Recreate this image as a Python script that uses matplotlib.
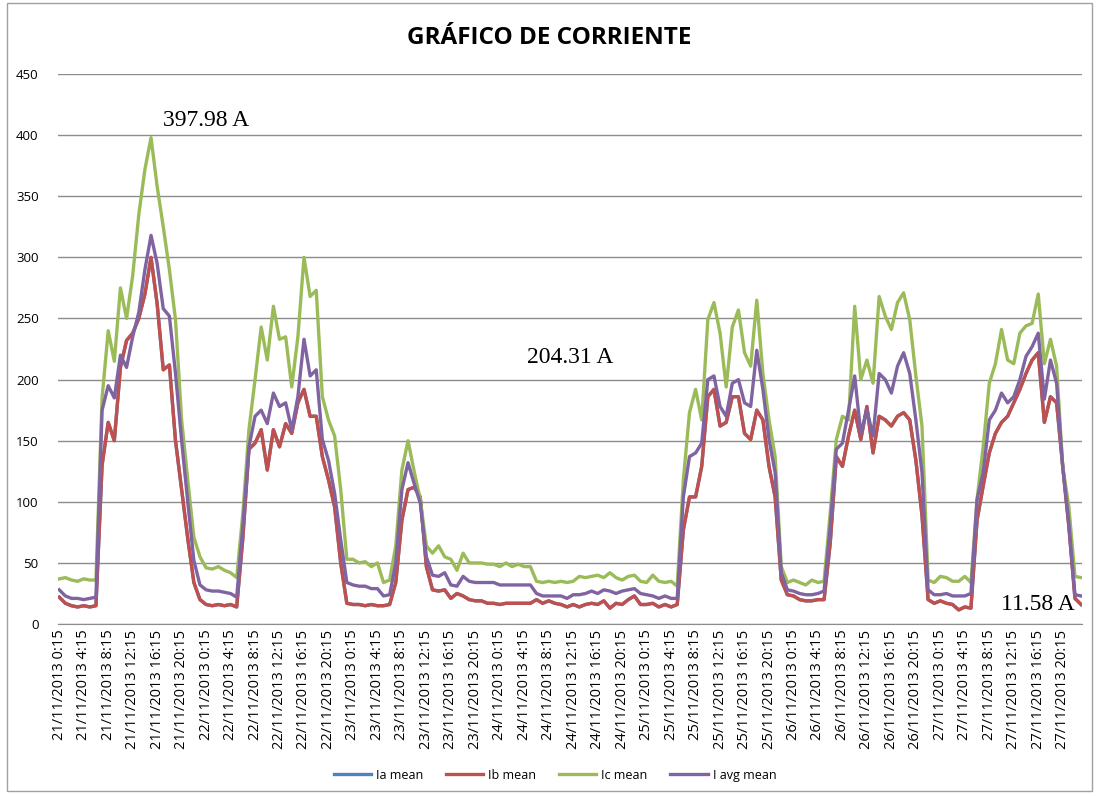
import matplotlib
matplotlib.use("Agg")
import matplotlib.pyplot as plt
from matplotlib.patches import Rectangle

# hourly readings 21/11/2013 0:15 .. 27/11/2013 23:15
ib_mean = [22, 17, 15, 14, 15, 14, 15, 130, 165, 150, 210, 232, 238, 250, 270, 300, 262, 208, 212, 150, 110, 70, 34, 20,
           16, 15, 16, 15, 16, 14, 70, 143, 148, 159, 126, 159, 145, 164, 156, 181, 192, 170, 170, 137, 118, 96, 50, 17,
           16, 16, 15, 16, 15, 15, 16, 34, 85, 110, 112, 104, 47, 28, 27, 28, 21, 25, 23, 20, 19, 19, 17, 17,
           16, 17, 17, 17, 17, 17, 20, 17, 19, 17, 16, 14, 16, 14, 16, 17, 16, 19, 13, 17, 16, 20, 23, 16,
           16, 17, 14, 16, 14, 16, 77, 104, 104, 129, 186, 192, 162, 165, 186, 186, 156, 151, 175, 167, 129, 104, 36, 24,
           23, 20, 19, 19, 20, 20, 66, 137, 129, 154, 175, 151, 178, 140, 170, 167, 162, 170, 173, 167, 134, 89, 20, 17,
           19, 17, 16, 11.58, 14, 13, 85, 113, 140, 156, 165, 170, 181, 192, 205, 216, 222, 165, 186, 181, 129, 80, 21, 16]
ia_mean = list(ib_mean)  # la serie azul queda tapada por Ib
ic_mean = [37, 38, 36, 35, 37, 36, 36, 185, 240, 215, 275, 250, 285, 335, 372, 397.98, 358, 325, 290, 249, 167, 118, 71, 55,
           46, 45, 47, 44, 42, 38, 90, 159, 200, 243, 216, 260, 233, 235, 194, 235, 300, 268, 273, 186, 167, 154, 110, 53,
           53, 50, 51, 47, 50, 34, 36, 64, 126, 150, 125, 102, 64, 58, 64, 55, 53, 44, 58, 50, 50, 50, 49, 49,
           47, 50, 47, 49, 47, 47, 35, 34, 35, 34, 35, 34, 35, 39, 38, 39, 40, 38, 42, 38, 36, 39, 40, 35,
           34, 40, 35, 34, 35, 31, 118, 173, 192, 167, 249, 263, 238, 194, 243, 257, 222, 211, 265, 205, 167, 137, 47, 34,
           36, 34, 32, 36, 34, 35, 91, 151, 170, 167, 260, 200, 216, 197, 268, 252, 241, 263, 271, 249, 203, 162, 36, 34,
           39, 38, 35, 35, 39, 34, 102, 145, 197, 213, 241, 216, 213, 238, 244, 246, 270, 213, 233, 211, 129, 96, 39, 38]
iavg_mean = [28, 23, 21, 21, 20, 21, 22, 175, 195, 185, 220, 210, 235, 255, 290, 318, 295, 258, 252, 205, 150, 100, 52, 32,
             28, 27, 27, 26, 25, 22, 80, 145, 170, 175, 164, 189, 178, 181, 159, 186, 233, 203, 208, 151, 134, 107, 69, 34,
             32, 31, 31, 29, 29, 23, 24, 50, 110, 132, 115, 99, 55, 40, 39, 42, 32, 31, 39, 35, 34, 34, 34, 34,
             32, 32, 32, 32, 32, 32, 25, 23, 23, 23, 23, 21, 24, 24, 25, 27, 25, 28, 27, 25, 27, 28, 29, 25,
             24, 23, 21, 23, 21, 21, 104, 137, 140, 148, 200, 203, 178, 170, 197, 200, 181, 178, 224, 192, 151, 124, 42, 28,
             27, 25, 24, 24, 25, 27, 80, 143, 148, 175, 203, 156, 175, 154, 205, 200, 189, 211, 222, 205, 167, 124, 28, 24,
             24, 25, 23, 23, 23, 25, 102, 124, 167, 175, 189, 181, 186, 200, 219, 227, 238, 184, 216, 197, 129, 83, 24, 23]

days = ["21/11/2013", "22/11/2013", "23/11/2013", "24/11/2013", "25/11/2013", "26/11/2013", "27/11/2013"]
hours = ["0:15", "4:15", "8:15", "12:15", "16:15", "20:15"]
tick_labels = [d + " " + h for d in days for h in hours]

annotations = [("397.98 A", 24, 412), ("204.31 A", 83.5, 218), ("11.58 A", 160, 16)]

fig = plt.figure(figsize=(10.99, 7.96), dpi=100)
ax = fig.add_axes([0.0528, 0.216, 0.932, 0.691])

x = list(range(len(ib_mean)))
ax.plot(x, ia_mean, color="#4F81BD", lw=2.4, label="Ia mean")
ax.plot(x, ib_mean, color="#C0504D", lw=2.4, label="Ib mean")
ax.plot(x, ic_mean, color="#9BBB59", lw=2.4, label="Ic mean")
ax.plot(x, iavg_mean, color="#8064A2", lw=2.4, label="I avg mean")

ax.set_xlim(-0.2, len(x) - 0.8)
ax.set_ylim(0, 450)
ax.set_yticks(range(0, 451, 50))
ax.set_xticks(range(0, len(x), 4))
ax.set_xticklabels(tick_labels, rotation=90, fontsize=10.5, family="Open Sans")
ax.tick_params(axis="y", labelsize=9.5, length=0, pad=14)
ax.tick_params(axis="x", length=0, pad=4)
for lab in ax.get_yticklabels():
    lab.set_family("Open Sans")
ax.grid(axis="y", color="#8c8c8c", lw=1)
ax.set_axisbelow(True)
for s in ["top", "right", "left"]:
    ax.spines[s].set_visible(False)
ax.spines["bottom"].set_color("#8c8c8c")

for txt, hx, vy in annotations:
    ax.text(hx, vy, txt, ha="center", va="center", fontsize=17, family="Liberation Serif")

fig.text(0.5, 0.952, "GRÁFICO DE CORRIENTE", ha="center", va="center",
         fontsize=17.5, fontweight="bold", family="Open Sans")

fig.legend(loc="center", bbox_to_anchor=(0.505, 0.026), ncol=4, frameon=False,
           prop={"family": "Open Sans", "size": 9}, handlelength=3.0,
           handletextpad=0.4, columnspacing=1.8)

fig.patches.append(Rectangle((0.006, 0.006), 0.988, 0.99, transform=fig.transFigure,
                             fill=False, edgecolor="#a0a0a0", lw=1))

fig.savefig("out.png", dpi=100)
